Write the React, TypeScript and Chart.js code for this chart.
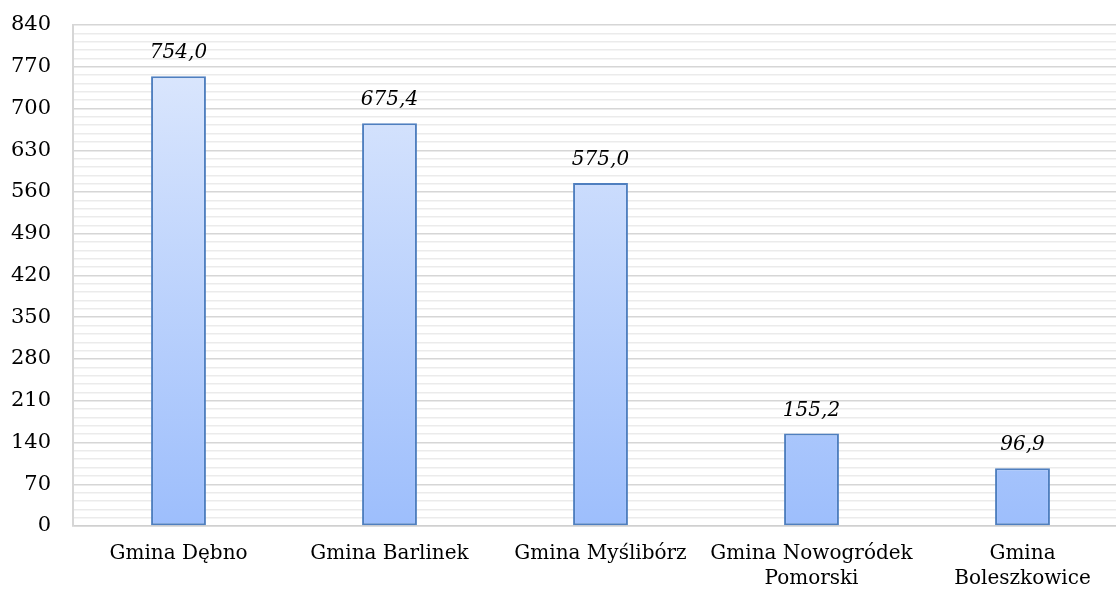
import React, { useEffect, useRef } from "react";
import { Chart, registerables } from "chart.js";

Chart.register(...registerables);

const categories: (string | string[])[] = [
  "Gmina Dębno",
  "Gmina Barlinek",
  "Gmina Myślibórz",
  ["Gmina Nowogródek", "Pomorski"],
  ["Gmina", "Boleszkowice"],
];
const values: number[] = [754.0, 675.4, 575.0, 155.2, 96.9];
const yMin = 0;
const yMax = 840;
const majorStep = 70;
const minorStep = 14;

const FONT = "'DejaVu Serif', serif";

const valueLabels = {
  id: "valueLabels",
  afterDatasetsDraw(chart: any) {
    const ctx = chart.ctx;
    const meta = chart.getDatasetMeta(0);
    ctx.save();
    ctx.font = `italic 20px ${FONT}`;
    ctx.fillStyle = "#000";
    ctx.textAlign = "center";
    ctx.textBaseline = "middle";
    meta.data.forEach((bar: any, i: number) => {
      const txt = values[i].toFixed(1).replace(".", ",");
      ctx.fillText(txt, bar.x, bar.y - 23);
    });
    ctx.restore();
  },
};

export default function App() {
  const ref = useRef<HTMLCanvasElement | null>(null);
  useEffect(() => {
    if (!ref.current) return;
    const chart = new Chart(ref.current, {
      type: "bar",
      data: {
        labels: categories,
        datasets: [
          {
            data: values,
            backgroundColor: (c: any) => {
              const area = c.chart.chartArea;
              const el = c.element;
              if (!area) return "#c6d9ff";
              const top = el && el.y !== undefined ? el.y : area.top;
              const g = c.chart.ctx.createLinearGradient(0, top, 0, area.bottom);
              g.addColorStop(0, "#e0eafd");
              g.addColorStop(1, "#9dbefc");
              return g;
            },
            borderColor: "#4f7fbf",
            borderWidth: 2,
            borderSkipped: false,
            barPercentage: 0.26,
            categoryPercentage: 1,
          },
        ],
      },
      options: {
        animation: false,
        responsive: false,
        maintainAspectRatio: false,
        layout: { padding: { left: 0, right: 0, top: 25, bottom: 0 } },
        plugins: { legend: { display: false }, tooltip: { enabled: false } },
        scales: {
          x: {
            grid: { display: false, drawTicks: false },
            border: { display: true, color: "#d0d0d0", width: 1.5 },
            afterFit: (s: any) => {
              s.height = 65;
              s.paddingLeft = 0;
              s.paddingRight = 0;
            },
            ticks: {
              color: "#000",
              font: { family: FONT, size: 20, lineHeight: 1.25 },
              padding: 15,
              maxRotation: 0,
              autoSkip: false,
            },
          },
          y: {
            min: yMin,
            max: yMax,
            afterFit: (s: any) => {
              s.width = 73;
              s.paddingTop = 0;
              s.paddingBottom = 0;
            },
            grid: {
              drawTicks: false,
              color: (c: any) =>
                c.tick && c.tick.value % majorStep === 0 ? "#d6d6d6" : "#ebebeb",
              lineWidth: 1.5,
            },
            border: { display: true, color: "#d6d6d6", width: 2 },
            ticks: {
              stepSize: minorStep,
              autoSkip: false,
              color: "#000",
              padding: 22,
              font: { family: FONT, size: 21 },
              callback: (v: any) => (Number(v) % majorStep === 0 ? String(v) : ""),
            },
          },
        },
      },
      plugins: [valueLabels],
    });
    return () => chart.destroy();
  }, []);
  return (
    <div
      style={{
        position: "fixed",
        left: 0,
        top: 0,
        width: 1116,
        height: 591,
        overflow: "hidden",
        background: "#fff",
      }}
    >
      <canvas ref={ref} width={1128} height={591} style={{ display: "block" }} />
    </div>
  );
}
